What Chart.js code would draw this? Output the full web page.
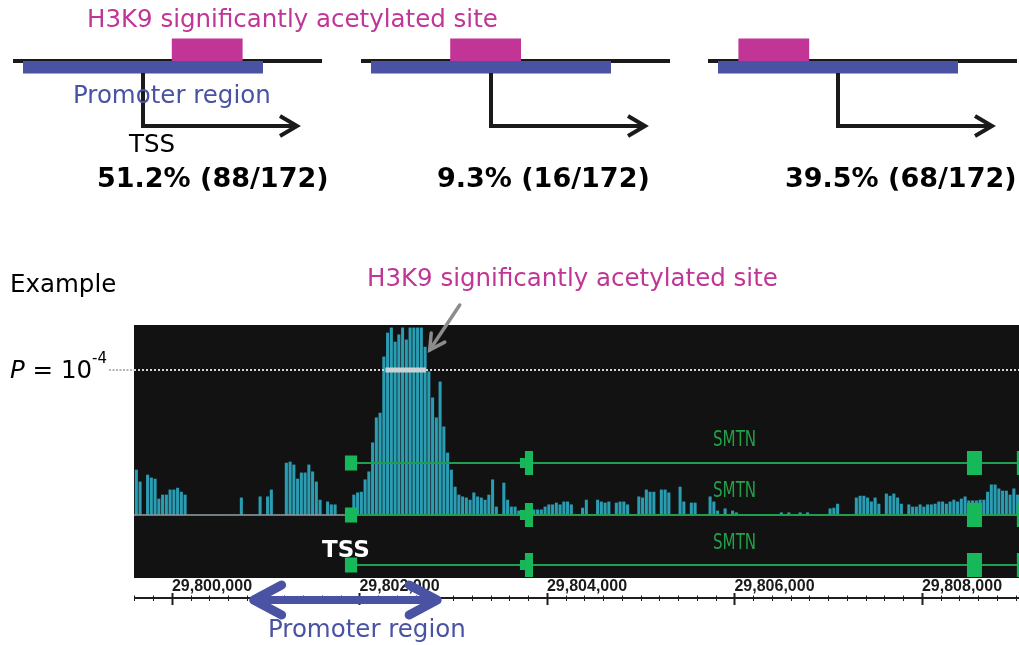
<!DOCTYPE html>
<html>
<head>
<meta charset="utf-8">
<title>H3K9 acetylation around SMTN promoter</title>
<script src="https://cdn.jsdelivr.net/npm/chart.js@4.4.1/dist/chart.umd.min.js"></script>
<style>
  html, body { margin: 0; padding: 0; background: #fff; }
  #wrap { position: relative; width: 1019px; height: 645px; overflow: hidden;
          font-family: "DejaVu Sans", Verdana, sans-serif; }
  #wrap canvas { position: absolute; left: 0; top: 0; }
  .t { position: absolute; white-space: nowrap; line-height: 1; font-size: 24.5px; }
  .pink { color: #c13596; }
  .blue { color: #4a52a3; }
  .pct { font-weight: bold; font-size: 27px; color: #000; }
  .gene { font-family: "Liberation Sans Narrow", "DejaVu Sans Condensed", sans-serif;
          font-size: 21px; color: #22a04a; transform: scaleX(0.8); transform-origin: 0 0; }
</style>
</head>
<body>
<div id="wrap">
  <canvas id="c" width="1019" height="645"></canvas>

  <div class="t pink" style="left:87px;top:7px">H3K9 significantly acetylated site</div>
  <div class="t blue" style="left:73px;top:83px">Promoter region</div>
  <div class="t" style="left:129px;top:132px;color:#000">TSS</div>
  <div class="t pct" id="pct0" style="left:97px;top:164px"></div>
  <div class="t pct" id="pct1" style="left:437px;top:164px"></div>
  <div class="t pct" id="pct2" style="left:785px;top:164px"></div>

  <div class="t" style="left:10px;top:272px;color:#000">Example</div>
  <div class="t pink" style="left:367px;top:266px">H3K9 significantly acetylated site</div>
  <div class="t" style="left:10px;top:358px;color:#000"><i>P</i> = 10<span style="position:relative;top:-15px;font-size:15px">-4</span></div>

  <div class="t" style="left:322px;top:538px;color:#fff;font-weight:bold;font-size:23px">TSS</div>
  <div class="t gene" id="g0"></div>
  <div class="t gene" id="g1"></div>
  <div class="t gene" id="g2"></div>

  <div class="t blue" style="left:268px;top:617px">Promoter region</div>
</div>

<script>
// ---- Promoter categories (sites relative to the TSS, counts out of all genes) ----
const caseCounts = [88, 16, 68];
const caseTotal = 172;
const promoterSpan = [-1000, 1000];              // bp around the TSS
const siteSpans = [[240, 830], [-340, 250], [-830, -240]]; // acetylated site, bp from TSS

// ---- Genome browser example: chr region around SMTN ----
const regionStart = 29799595;
const regionEnd = 29809035;
const tickValues = [29800000, 29802000, 29804000, 29806000, 29808000];
const minorStep = 200;
const tssPos = 29801850;
const pThreshold = 4;                            // -log10(P) = 4, i.e. P = 1e-4

// fixedStep wiggle track: -log10(P) per 40 bp bin
const binStart = 29799600;
const binSize = 40;
const signal = [
  1.24,0.91,0,1.10,1.02,0.99,0.44,0.55,0.55,0.69, 0.69,0.74,0.63,0.55,0,0,0,0,0,0,
  0,0,0,0,0,0,0,0,0.47,0, 0,0,0,0.50,0,0.50,0.69,0,0,0,
  1.43,1.46,1.38,0.99,1.16,1.16,1.38,1.19,0.91,0.41, 0,0.36,0.28,0.28,0,0,0,0,0.55,0.61,
  0.63,0.97,1.19,1.99,2.68,2.81,4.36,5.02,5.16,4.77, 4.97,5.16,4.83,5.16,5.16,5.16,5.16,4.63,3.95,3.23,
  2.68,3.67,2.43,1.71,1.24,0.77,0.55,0.50,0.47,0.41, 0.61,0.50,0.47,0.41,0.55,0.97,0.22,0,0.88,0.41,
  0.22,0.22,0.11,0.11,0.11,0,0.14,0.14,0.14,0.22, 0.28,0.28,0.33,0.28,0.36,0.36,0.28,0,0,0.19,
  0.41,0,0,0.41,0.36,0.33,0.36,0,0.33,0.36, 0.36,0.28,0,0,0.50,0.47,0.69,0.63,0.63,0,
  0.69,0.69,0.61,0,0,0.77,0.36,0,0.33,0.33, 0,0,0,0.50,0.36,0.11,0,0.17,0,0.11,
  0.06,0,0,0,0,0,0,0,0,0, 0,0,0.06,0,0.06,0,0,0.06,0,0.06,
  0,0,0,0,0,0.17,0.19,0.30,0,0, 0,0,0.47,0.52,0.52,0.47,0.36,0.47,0.30,0,
  0.58,0.52,0.58,0.47,0.30,0,0.28,0.22,0.22,0.28, 0.22,0.28,0.28,0.30,0.36,0.36,0.30,0.36,0.41,0.36,
  0.44,0.50,0.39,0.39,0.39,0.41,0.41,0.63,0.83,0.83, 0.72,0.66,0.66,0.55,0.72,0.55
];

// SMTN transcripts and their exons: [start, end, kind]
const transcripts = ['SMTN', 'SMTN', 'SMTN'];
const exons = [
  [29801845, 29801975, 'first'],
  [29803712, 29803765, 'utr'],
  [29803765, 29803851, 'cds'],
  [29808480, 29808640, 'cds'],
  [29809012, 29809200, 'cds']
];

// ---- text for the three categories ----
caseCounts.forEach((n, k) => {
  document.getElementById('pct' + k).textContent =
    (n / caseTotal * 100).toFixed(1) + '% (' + n + '/' + caseTotal + ')';
});

// ---- layout / styling ----
const PANEL_BG = '#121212';
const BAR_COLOR = '#2a9db3';
const EXON_COLOR = '#17b85a';
const GENE_LINE = '#1f9e52';
const PINK = '#c13596';
const BLUE = '#4a52a3';
const trackRows = [138, 190, 240];             // px below panel top
const exonHalf = { first: 7.5, utr: 5, cds: 12 };
const labelX = 713;
const labelBase = [447, 498, 550];

transcripts.forEach((name, k) => {
  const el = document.getElementById('g' + k);
  el.textContent = name;
  el.style.left = labelX + 'px';
  el.style.top = (labelBase[k] - 17.8) + 'px';
});

const panelPlugin = {
  id: 'panel',
  beforeDraw(chart) {
    const { ctx, chartArea: a } = chart;
    ctx.save();
    ctx.fillStyle = PANEL_BG;
    ctx.fillRect(a.left, a.top, a.right - a.left, a.bottom - a.top);
    ctx.restore();
  },
  afterDatasetsDraw(chart) {
    const { ctx, chartArea: a, scales: { x, y } } = chart;
    ctx.save();
    ctx.beginPath();
    ctx.rect(a.left, a.top, a.right - a.left, a.bottom - a.top);
    ctx.clip();

    // significance threshold
    const ty = Math.round(y.getPixelForValue(pThreshold));
    ctx.strokeStyle = '#d4d4d4';
    ctx.lineWidth = 2;
    ctx.setLineDash([2, 2]);
    ctx.beginPath(); ctx.moveTo(a.left, ty); ctx.lineTo(a.right, ty); ctx.stroke();
    ctx.setLineDash([]);

    // significant site: bins above the threshold
    let first = -1, last = -1;
    signal.forEach((v, i) => { if (v >= pThreshold) { if (first < 0) first = i; last = i; } });
    const sx0 = x.getPixelForValue(binStart + (first + 0.9) * binSize);
    const sx1 = x.getPixelForValue(binStart + (last + 0.7) * binSize);
    ctx.fillStyle = '#c9d1d5';
    ctx.fillRect(sx0, ty - 2.5, sx1 - sx0, 5);

    // signal baseline
    const by = y.getPixelForValue(0);
    ctx.strokeStyle = '#8f9696';
    ctx.lineWidth = 1.5;
    ctx.beginPath(); ctx.moveTo(a.left, by); ctx.lineTo(a.right, by); ctx.stroke();

    // gene models
    transcripts.forEach((name, k) => {
      const cy = a.top + trackRows[k];
      const gx = x.getPixelForValue(exons[0][0]);
      ctx.strokeStyle = GENE_LINE;
      ctx.lineWidth = 2;
      ctx.beginPath(); ctx.moveTo(gx, cy); ctx.lineTo(a.right, cy); ctx.stroke();
      ctx.fillStyle = EXON_COLOR;
      exons.forEach(([s, e, kind]) => {
        const px0 = x.getPixelForValue(s), px1 = x.getPixelForValue(e);
        const h = exonHalf[kind];
        ctx.fillRect(px0, cy - h, px1 - px0, 2 * h);
      });
    });
    ctx.restore();
  },
  afterDraw(chart) {
    const { ctx, chartArea: a, scales: { x, y } } = chart;
    ctx.save();

    // threshold guide into the left margin
    const ty = Math.round(y.getPixelForValue(pThreshold));
    ctx.strokeStyle = '#b4b4b4';
    ctx.lineWidth = 2;
    ctx.setLineDash([2, 1.5]);
    ctx.beginPath(); ctx.moveTo(109, ty); ctx.lineTo(a.left, ty); ctx.stroke();
    ctx.setLineDash([]);

    // pointer to the significant site
    let last = -1;
    signal.forEach((v, i) => { if (v >= pThreshold) last = i; });
    const tipX = x.getPixelForValue(binStart + (last + 1.2) * binSize) + 2;
    const tipY = ty - 20;
    const tailX = tipX + 30, tailY = tipY - 45;
    ctx.strokeStyle = '#8c8c8c';
    ctx.lineWidth = 3.5;
    ctx.lineCap = 'round';
    ctx.beginPath(); ctx.moveTo(tailX, tailY); ctx.lineTo(tipX, tipY); ctx.stroke();
    const ang = Math.atan2(tipY - tailY, tipX - tailX);
    ctx.beginPath();
    ctx.moveTo(tipX - 17 * Math.cos(ang - 0.5), tipY - 17 * Math.sin(ang - 0.5));
    ctx.lineTo(tipX, tipY);
    ctx.lineTo(tipX - 17 * Math.cos(ang + 0.5), tipY - 17 * Math.sin(ang + 0.5));
    ctx.stroke();

    // coordinate ruler
    const ry = 598;
    ctx.strokeStyle = '#1e1e1e';
    ctx.lineCap = 'butt';
    ctx.lineWidth = 2;
    ctx.beginPath(); ctx.moveTo(a.left + 1, ry); ctx.lineTo(a.right, ry); ctx.stroke();
    for (let v = Math.ceil(x.min / minorStep) * minorStep; v <= x.max; v += minorStep) {
      const px = Math.round(x.getPixelForValue(v)) + 0.5;
      const major = tickValues.includes(v);
      ctx.lineWidth = major ? 2 : 1;
      ctx.beginPath();
      ctx.moveTo(px, major ? 593 : 595.5);
      ctx.lineTo(px, major ? 605 : 601);
      ctx.stroke();
    }

    // promoter region: TSS +/- 1 kb
    const p0 = x.getPixelForValue(tssPos + promoterSpan[0]);
    const p1 = x.getPixelForValue(tssPos + promoterSpan[1]);
    const py = 600;
    ctx.strokeStyle = BLUE;
    ctx.lineCap = 'round';
    ctx.lineJoin = 'round';
    ctx.lineWidth = 8;
    ctx.beginPath(); ctx.moveTo(p0 + 3, py); ctx.lineTo(p1 - 3, py); ctx.stroke();
    ctx.lineWidth = 9;
    ctx.beginPath();
    ctx.moveTo(p0 + 30, py - 15); ctx.lineTo(p0 + 2, py); ctx.lineTo(p0 + 30, py + 15);
    ctx.moveTo(p1 - 30, py - 15); ctx.lineTo(p1 - 2, py); ctx.lineTo(p1 - 30, py + 15);
    ctx.stroke();

    // category schematics
    const tssX = [143, 491, 838];
    const pxPerBp = 0.12;
    siteSpans.forEach((site, k) => {
      const t = tssX[k];
      ctx.lineCap = 'butt';
      ctx.fillStyle = '#1a1a1a';
      ctx.fillRect(t - 130, 59, 309, 4);
      ctx.fillStyle = BLUE;
      ctx.fillRect(t + promoterSpan[0] * pxPerBp, 61, (promoterSpan[1] - promoterSpan[0]) * pxPerBp, 12.5);
      ctx.fillStyle = PINK;
      ctx.fillRect(t + site[0] * pxPerBp, 38.5, (site[1] - site[0]) * pxPerBp, 22.5);
      // TSS arrow
      ctx.strokeStyle = '#1a1a1a';
      ctx.lineWidth = 4;
      ctx.lineJoin = 'miter';
      ctx.beginPath();
      ctx.moveTo(t, 73); ctx.lineTo(t, 126); ctx.lineTo(t + 154, 126);
      ctx.stroke();
      ctx.beginPath();
      ctx.moveTo(t + 137, 116); ctx.lineTo(t + 154, 126); ctx.lineTo(t + 137, 136);
      ctx.stroke();
    });
    ctx.restore();
  }
};

new Chart(document.getElementById('c'), {
  type: 'bar',
  data: {
    datasets: [{
      data: signal.map((v, i) => ({ x: binStart + (i + 0.5) * binSize, y: v })),
      backgroundColor: BAR_COLOR,
      borderWidth: 0,
      barThickness: 2.4,
      grouped: false
    }]
  },
  options: {
    responsive: false,
    animation: false,
    devicePixelRatio: 1,
    layout: { padding: { left: 134, top: 325, right: 0, bottom: 47 } },
    plugins: { legend: { display: false }, tooltip: { enabled: false } },
    scales: {
      x: {
        type: 'linear',
        min: regionStart,
        max: regionEnd,
        offset: false,
        grid: { display: false, drawTicks: false },
        border: { display: false },
        afterBuildTicks: (s) => { s.ticks = tickValues.map((v) => ({ value: v })); },
        afterFit: (s) => { s.height = 20; s.paddingLeft = 0; s.paddingRight = 0; },
        ticks: {
          autoSkip: false,
          maxRotation: 0,
          align: 'start',
          padding: 0,
          color: '#1a1a1a',
          font: { family: '"Liberation Sans Narrow", "Arial Narrow", sans-serif', size: 16, weight: 'bold', lineHeight: 1.1 },
          callback: (v) => Number(v).toLocaleString('en-US')
        }
      },
      y: { display: false, min: -1.74, max: 5.24 }
    }
  },
  plugins: [panelPlugin]
});
</script>
</body>
</html>
